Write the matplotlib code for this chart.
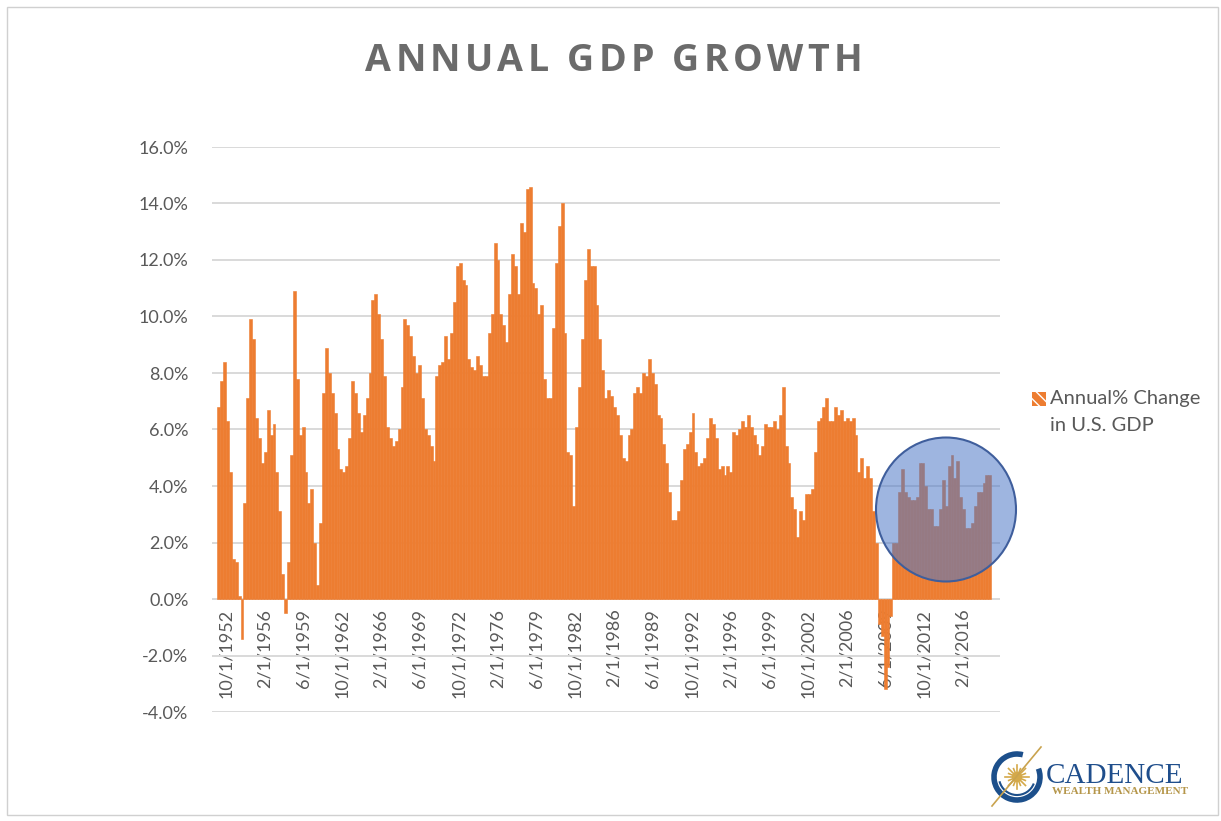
import numpy as np
import matplotlib.pyplot as plt
from matplotlib.patches import Ellipse, Rectangle, Arc
from matplotlib.lines import Line2D

plt.rcParams['font.family'] = ['Lato', 'DejaVu Sans']

# quarterly annual % change in U.S. GDP, first quarter = 1/1/1952
start_year = 1952
gdp_change = [
    6.8, 7.7, 8.4, 6.3, 4.5, 1.4, 1.3, 0.1, -1.4, 3.4,
    7.1, 9.9, 9.2, 6.4, 5.7, 4.8, 5.2, 6.7, 5.8, 6.2,
    4.5, 3.1, 0.9, -0.5, 1.3, 5.1, 10.9, 7.8, 5.8, 6.1,
    4.5, 3.4, 3.9, 2.0, 0.5, 2.7, 7.3, 8.9, 8.0, 7.3,
    6.6, 5.3, 4.6, 4.5, 4.7, 5.7, 7.7, 7.3, 6.6, 5.9,
    6.5, 7.1, 8.0, 10.6, 10.8, 10.1, 9.2, 7.9, 6.1, 5.7,
    5.4, 5.6, 6.0, 7.5, 9.9, 9.7, 9.3, 8.6, 8.0, 8.3,
    7.1, 6.0, 5.8, 5.4, 4.9, 7.9, 8.3, 8.4, 9.3, 8.5,
    9.4, 10.5, 11.8, 11.9, 11.3, 11.1, 8.5, 8.2, 8.1, 8.6,
    8.3, 7.9, 7.9, 9.4, 10.1, 12.6, 12.0, 10.1, 9.7, 9.1,
    10.8, 12.2, 11.8, 10.8, 13.3, 13.0, 14.5, 14.6, 11.2, 11.0,
    10.1, 10.4, 7.8, 7.1, 7.1, 9.6, 11.9, 13.2, 14.0, 9.4,
    5.2, 5.1, 3.3, 6.1, 7.5, 9.2, 11.3, 12.4, 11.8, 11.8,
    10.4, 9.2, 8.1, 7.1, 7.4, 7.2, 6.8, 6.5, 5.8, 5.0,
    4.9, 5.8, 6.0, 7.3, 7.5, 7.3, 8.0, 7.9, 8.5, 8.0,
    7.6, 6.5, 6.4, 5.5, 4.8, 3.8, 2.8, 2.8, 3.1, 4.2,
    5.3, 5.5, 5.9, 6.6, 5.2, 4.7, 4.8, 5.0, 5.7, 6.4,
    6.2, 5.7, 4.6, 4.7, 4.4, 4.7, 4.5, 5.9, 5.8, 6.0,
    6.3, 6.1, 6.5, 6.1, 5.8, 5.5, 5.1, 5.4, 6.2, 6.1,
    6.1, 6.3, 6.0, 6.5, 7.5, 5.4, 4.8, 3.6, 3.2, 2.2,
    3.1, 2.8, 3.7, 3.7, 3.9, 5.2, 6.3, 6.4, 6.8, 7.1,
    6.3, 6.3, 6.8, 6.5, 6.7, 6.3, 6.4, 6.3, 6.4, 5.8,
    4.5, 5.0, 4.3, 4.7, 4.3, 3.1, 2.0, -0.9, -1.3, -3.2,
    -2.4, -0.6, 2.0, 2.0, 3.8, 4.6, 3.8, 3.6, 3.5, 3.5,
    3.6, 4.8, 4.8, 4.0, 3.2, 3.2, 2.6, 2.6, 3.2, 4.2,
    3.3, 4.7, 5.1, 4.3, 4.9, 3.6, 3.2, 2.5, 2.5, 2.7,
    3.3, 3.8, 3.8, 4.1, 4.4, 4.4,
]
date_labels = ['10/1/1952', '2/1/1956', '6/1/1959', '10/1/1962', '2/1/1966',
               '6/1/1969', '10/1/1972', '2/1/1976', '6/1/1979', '10/1/1982',
               '2/1/1986', '6/1/1989', '10/1/1992', '2/1/1996', '6/1/1999',
               '10/1/2002', '2/1/2006', '6/1/2009', '10/1/2012', '2/1/2016']
y_ticks = [-4, -2, 0, 2, 4, 6, 8, 10, 12, 14, 16]
series_name = ['Annual% Change', 'in U.S. GDP']
title = 'ANNUAL GDP GROWTH'

orange = '#ED7D31'
grey = '#595959'

W, H = 1221, 821
fig = plt.figure(figsize=(12.21, 8.21), dpi=100)


def fx(x):
    return x / W


def fy(y):
    return 1 - y / H


ax = fig.add_axes([fx(212), fy(712), fx(1000) - fx(212), fy(147) - fy(712)])
xq = np.arange(len(gdp_change))
ax.bar(xq, gdp_change, width=1.0, align='edge', color=orange,
       edgecolor=orange, linewidth=0.4)
ax.set_xlim(-1.8, 269)
ax.set_ylim(-4, 16)

# tick positions in quarters from the label dates
tick_pos = []
for d in date_labels:
    m, _, y = d.split('/')
    tick_pos.append(((int(y) - start_year) * 12 + int(m) - 1) / 3)
ax.set_xticks(tick_pos)
ax.set_xticklabels(date_labels)
ax.set_yticks(y_ticks)
ax.set_yticklabels([f'{v:.1f}%' for v in y_ticks])

ax.grid(axis='y', color='#D9D9D9', lw=1.4)
ax.set_axisbelow(True)
for s in ax.spines.values():
    s.set_visible(False)
ax.spines['bottom'].set_position(('data', 0))
ax.tick_params(axis='y', length=0, pad=17, labelsize=13, labelcolor=grey)
ax.tick_params(axis='x', length=0, pad=7, labelsize=13, labelcolor=grey,
               labelrotation=90)

# highlight circle
fig.add_artist(Ellipse((fx(946), fy(509.5)), 140 / W, 144 / H,
                       transform=fig.transFigure,
                       facecolor=(0.31, 0.47, 0.78, 0.55),
                       edgecolor='#3F5E9C', lw=1.5, zorder=5))

# border
fig.add_artist(Rectangle((fx(7), fy(815)), (1218 - 7) / W, (815 - 7) / H,
                         transform=fig.transFigure, fill=False,
                         edgecolor='#D0D0D0', lw=1))

# title with letter spacing
renderer = fig.canvas.get_renderer()
tkw = dict(family='Open Sans', weight='bold', size=27, color='#6B6B6B')
widths = []
for ch in title:
    t = fig.text(0, 0, ch, **tkw)
    widths.append(t.get_window_extent(renderer).width)
    t.remove()
target = 497
gap = (target - sum(widths)) / (len(title) - 1)
xpos = 613.5 - target / 2
for ch, w in zip(title, widths):
    fig.text(fx(xpos), fy(71), ch, va='baseline', **tkw)
    xpos += w + gap

# legend
fig.add_artist(Rectangle((fx(1032), fy(406)), 14 / W, 14 / H,
                         transform=fig.transFigure, facecolor=orange,
                         edgecolor='white', hatch='\\\\\\', lw=0))
fig.text(fx(1050), fy(398), series_name[0], va='center', size=14.5, color=grey)
fig.text(fx(1050), fy(425), series_name[1], va='center', size=14.5, color=grey)

# logo
cx, cy = 1017, 777
fig.add_artist(Arc((fx(cx), fy(cy)), 46 / W, 46 / H, theta1=80, theta2=390,
                   transform=fig.transFigure, color='#1C4F8B', lw=4))
fig.add_artist(Arc((fx(cx), fy(cy)), 36 / W, 36 / H, theta1=200, theta2=330,
                   transform=fig.transFigure, color='#1C4F8B', lw=1.5))
for a in np.linspace(0, 2 * np.pi, 16, endpoint=False):
    r2 = 12 if int(round(a / (np.pi / 8))) % 2 == 0 else 9
    fig.add_artist(Line2D([fx(cx + 4 * np.cos(a)), fx(cx + r2 * np.cos(a))],
                          [fy(cy + 4 * np.sin(a)), fy(cy + r2 * np.sin(a))],
                          transform=fig.transFigure, color='#D4A94A', lw=1.2))
fig.add_artist(Ellipse((fx(cx), fy(cy)), 9 / W, 9 / H,
                       transform=fig.transFigure, color='#D4A94A'))
fig.add_artist(Line2D([fx(992), fx(1041)], [fy(806), fy(747)],
                      transform=fig.transFigure, color='#C9A34E', lw=1.2))
fig.text(fx(1046), fy(783), 'CADENCE', family='Liberation Serif', size=21,
         color='#1F4E8C', va='baseline')
fig.text(fx(1052), fy(794), 'WEALTH MANAGEMENT', family='Liberation Serif',
         weight='bold', size=8, color='#B5964A', va='baseline')

fig.savefig('out.png', dpi=100)
